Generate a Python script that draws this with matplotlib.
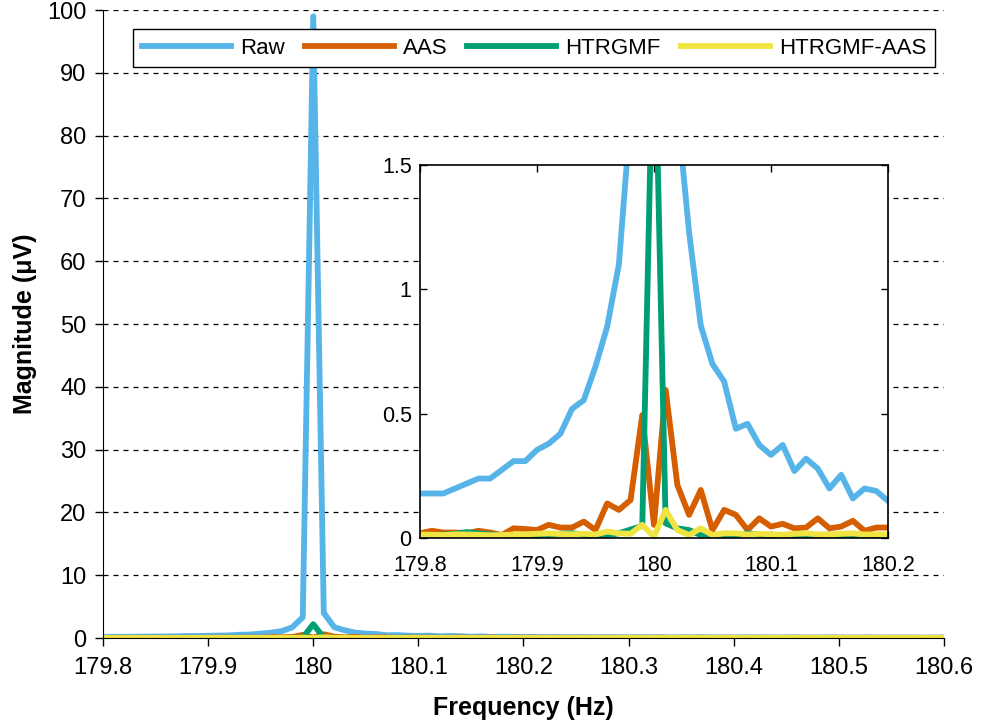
import numpy as np
import matplotlib
matplotlib.use("Agg")
import matplotlib.pyplot as plt
from matplotlib.ticker import FuncFormatter

plt.rcParams['font.family'] = ['Liberation Sans', 'DejaVu Sans']

# frequency bins, 0.01 Hz apart
freq = np.round(np.arange(179.80, 180.605, 0.01), 2)

raw = [0.18, 0.18, 0.18, 0.20, 0.22, 0.24, 0.24, 0.275, 0.31, 0.31,
       0.355, 0.38, 0.42, 0.52, 0.555, 0.69, 0.85, 1.10, 1.70, 3.30,
       99.0,
       4.0, 1.72, 1.23, 0.855, 0.70, 0.63, 0.44, 0.46, 0.375, 0.335,
       0.375, 0.27, 0.32, 0.28, 0.20, 0.255, 0.16, 0.20, 0.19, 0.15,
       0.17, 0.14, 0.16, 0.12, 0.15, 0.13, 0.11, 0.14, 0.12, 0.10,
       0.13, 0.11, 0.12, 0.09, 0.11, 0.10, 0.12, 0.09, 0.10, 0.08,
       0.11, 0.09, 0.10, 0.08, 0.09, 0.10, 0.07, 0.09, 0.08, 0.09,
       0.07, 0.08, 0.09, 0.07, 0.08, 0.07, 0.08, 0.06, 0.07, 0.08]

aas = [0.02, 0.03, 0.023, 0.023, 0.02, 0.03, 0.023, 0.013, 0.04, 0.037,
       0.033, 0.054, 0.043, 0.043, 0.067, 0.033, 0.14, 0.114, 0.154, 0.495,
       0.054,
       0.596, 0.214, 0.094, 0.194, 0.033, 0.114, 0.094, 0.033, 0.08, 0.047,
       0.058, 0.04, 0.043, 0.08, 0.04, 0.047, 0.07, 0.03, 0.043, 0.043,
       0.05, 0.03, 0.045, 0.035, 0.025, 0.05, 0.03, 0.04, 0.028, 0.045,
       0.03, 0.035, 0.05, 0.025, 0.04, 0.03, 0.045, 0.028, 0.035, 0.04,
       0.025, 0.045, 0.03, 0.035, 0.028, 0.04, 0.03, 0.025, 0.04, 0.03,
       0.035, 0.025, 0.04, 0.03, 0.028, 0.035, 0.03, 0.025, 0.035, 0.03]

htrgmf = [0.012, 0.012, 0.015, 0.018, 0.025, 0.02, 0.015, 0.012, 0.01, 0.008,
          0.012, 0.015, 0.018, 0.02, 0.015, 0.01, 0.012, 0.02, 0.035, 0.05,
          2.2,
          0.06, 0.04, 0.033, 0.013, 0.008, 0.01, 0.012, 0.02, 0.015, 0.01,
          0.012, 0.01, 0.008, 0.012, 0.015, 0.01, 0.008, 0.01, 0.012, 0.008,
          0.01, 0.008, 0.012, 0.009, 0.007, 0.01, 0.008, 0.011, 0.007, 0.009,
          0.01, 0.006, 0.008, 0.01, 0.007, 0.009, 0.006, 0.008, 0.01, 0.007,
          0.008, 0.006, 0.009, 0.007, 0.008, 0.006, 0.009, 0.007, 0.006, 0.008,
          0.007, 0.006, 0.008, 0.005, 0.007, 0.006, 0.008, 0.005, 0.007, 0.006]

htrgmf_aas = [0.015, 0.014, 0.013, 0.016, 0.015, 0.014, 0.012, 0.013, 0.015, 0.016,
              0.018, 0.02, 0.017, 0.016, 0.018, 0.015, 0.027, 0.02, 0.018, 0.054,
              0.007,
              0.114, 0.033, 0.013, 0.04, 0.013, 0.02, 0.02, 0.015, 0.018, 0.016,
              0.014, 0.018, 0.02, 0.016, 0.015, 0.018, 0.02, 0.015, 0.016, 0.015,
              0.017, 0.014, 0.016, 0.013, 0.015, 0.017, 0.012, 0.015, 0.014, 0.016,
              0.013, 0.015, 0.012, 0.014, 0.016, 0.013, 0.015, 0.012, 0.014, 0.013,
              0.015, 0.012, 0.014, 0.013, 0.011, 0.014, 0.012, 0.013, 0.011, 0.014,
              0.012, 0.013, 0.011, 0.012, 0.014, 0.011, 0.013, 0.012, 0.011, 0.012]

names = ["Raw", "AAS", "HTRGMF", "HTRGMF-AAS"]
colors = ["#56B4E9", "#D55E00", "#009E73", "#F0E442"]
series = [raw, aas, htrgmf, htrgmf_aas]

fmt = FuncFormatter(lambda v, p: "{:g}".format(round(v, 2)))

fig = plt.figure(figsize=(9.84, 7.27), dpi=100)
ax = fig.add_axes([0.1047, 0.1224, 0.8546, 0.8638])

lines = []
for ys, name, c in zip(series, names, colors):
    l, = ax.plot(freq, ys, color=c, lw=4.2, label=name)
    lines.append(l)

ax.set_xlim(179.8, 180.6)
ax.set_ylim(0, 100)
ax.set_xticks(np.round(np.arange(179.8, 180.65, 0.1), 1))
ax.set_yticks(np.arange(0, 101, 10))
ax.xaxis.set_major_formatter(fmt)
ax.yaxis.grid(True, color="black", lw=0.9, linestyle=(0, (4, 4)))
ax.set_axisbelow(True)
for s in ["top", "right"]:
    ax.spines[s].set_visible(False)
ax.tick_params(direction="out", length=6, width=1, labelsize=17, pad=6)
ax.tick_params(axis="x", pad=8)
ax.set_xlabel("Frequency (Hz)", fontsize=18, fontweight="bold", labelpad=12)
ax.set_ylabel("Magnitude (\u03bcV)", fontsize=18, fontweight="bold", labelpad=7)

leg = ax.legend(handles=lines, ncol=4, loc="center", mode="expand",
                bbox_to_anchor=(133 / 984, 1 - 74 / 727, 802 / 984, 52 / 727),
                bbox_transform=fig.transFigure, fontsize=16, handlelength=4.0,
                fancybox=False, framealpha=1, edgecolor="black",
                borderaxespad=0, handletextpad=0.4)
leg.get_frame().set_linewidth(1.0)

# zoomed view around the 180 Hz line
ins = fig.add_axes([0.4268, 0.2596, 0.4756, 0.5135])
for ys, c in zip(series, colors):
    ins.plot(freq, ys, color=c, lw=4.2)
ins.set_xlim(179.8, 180.2)
ins.set_ylim(0, 1.5)
ins.set_xticks([179.8, 179.9, 180.0, 180.1, 180.2])
ins.set_yticks([0, 0.5, 1.0, 1.5])
ins.xaxis.set_major_formatter(fmt)
ins.yaxis.set_major_formatter(fmt)
ins.tick_params(direction="in", length=5, width=1, labelsize=15.5,
                top=True, right=True, pad=6)
ins.tick_params(axis="x", pad=12)
for s in ins.spines.values():
    s.set_linewidth(1.2)

fig.savefig("out.png", dpi=100)
